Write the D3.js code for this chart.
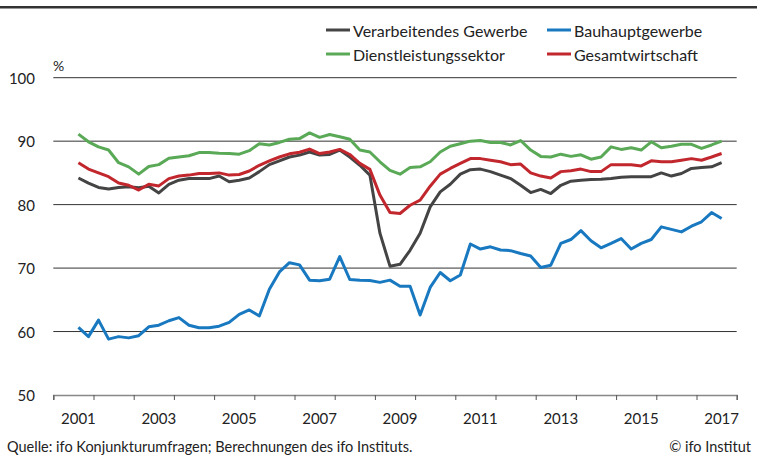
<!DOCTYPE html>
<html>
<head>
<meta charset="utf-8">
<script src="https://cdn.jsdelivr.net/npm/d3@7"></script>
<style>
  body { margin: 0; background: #fff; }
  svg { display: block; font-family: Lato, "Open Sans", sans-serif; }
</style>
</head>
<body>
<div id="chart"></div>
<script>
// ---------- DATA (quarterly, 2001 Q3 .. 2017 Q3) ----------
const startYear = 2001, startQuarter = 3;

const verarbeitend = [
  84.2, 83.4, 82.7, 82.45, 82.7, 82.8, 82.65, 82.9, 81.85, 83.2, 83.85, 84.1, 84.1, 84.1, 84.5, 83.6, 83.85, 84.2, 85.2, 86.3, 86.9, 87.5, 87.8,
  88.3, 87.8, 87.9, 88.6, 87.5, 86.2, 84.65, 75.5, 70.3, 70.6, 72.8, 75.5, 79.65, 82.0, 83.2, 84.8, 85.5, 85.6, 85.2,
  84.65, 84.1, 83.05, 81.9, 82.4, 81.75, 83.05, 83.7, 83.85, 83.95, 84.0, 84.1, 84.3, 84.4, 84.4, 84.4, 85.0, 84.5, 84.9, 85.7, 85.85, 85.95, 86.6
];
const bauhaupt = [
  60.65, 59.2, 61.8, 58.8, 59.2, 59.0, 59.35, 60.75, 61.0, 61.7, 62.2, 61.0, 60.6, 60.6, 60.85, 61.45, 62.7, 63.4, 62.45, 66.65, 69.4, 70.85, 70.5,
  68.1, 68.0, 68.25, 71.8, 68.2, 68.1, 68.05, 67.75, 68.1, 67.15, 67.15, 62.6, 66.95, 69.3, 68.0, 68.9, 73.8, 73.0, 73.35,
  72.85, 72.75, 72.3, 71.9, 70.1, 70.45, 73.9, 74.5, 75.9, 74.3, 73.2, 73.9, 74.65, 73.0, 73.9, 74.5, 76.5, 76.1, 75.7, 76.6, 77.3, 78.75, 77.8
];
const dienstleistung = [
  91.1, 89.9, 89.1, 88.6, 86.6, 85.95, 84.8, 86.0, 86.3, 87.3, 87.5, 87.7, 88.2, 88.2, 88.1, 88.05, 87.95, 88.5, 89.6, 89.4, 89.8, 90.3, 90.4,
  91.3, 90.6, 91.05, 90.7, 90.3, 88.6, 88.3, 86.75, 85.4, 84.8, 85.85, 85.95, 86.75, 88.3, 89.2, 89.6, 90.0, 90.1, 89.8,
  89.8, 89.4, 90.1, 88.6, 87.6, 87.5, 87.95, 87.6, 87.85, 87.15, 87.5, 89.1, 88.7, 88.95, 88.6, 89.9, 88.95, 89.2, 89.5, 89.5, 88.85, 89.4, 90.0
];
const gesamt = [
  86.6, 85.6, 85.0, 84.4, 83.4, 83.05, 82.3, 83.2, 82.95, 84.1, 84.5, 84.65, 84.9, 84.9, 85.0, 84.65, 84.75, 85.3, 86.2, 86.9, 87.5, 88.0, 88.25,
  88.75, 88.05, 88.3, 88.7, 87.9, 86.5, 85.55, 81.5, 78.75, 78.6, 79.9, 80.7, 82.9, 84.8, 85.7, 86.5, 87.25, 87.25, 87.0,
  86.75, 86.3, 86.4, 85.0, 84.5, 84.2, 85.2, 85.35, 85.6, 85.2, 85.2, 86.3, 86.3, 86.3, 86.1, 86.9, 86.75, 86.75, 87.0, 87.25, 87.0, 87.5, 88.05
];

const yTicks = [50, 60, 70, 80, 90, 100];
const yearTicks = d3.range(2001, 2019);
const yearLabels = [2001, 2003, 2005, 2007, 2009, 2011, 2013, 2015, 2017];

const series = [
  { name: "Verarbeitendes Gewerbe", values: verarbeitend, color: "#444444" },
  { name: "Bauhauptgewerbe", values: bauhaupt, color: "#1878c0" },
  { name: "Dienstleistungssektor", values: dienstleistung, color: "#5aa957" },
  { name: "Gesamtwirtschaft", values: gesamt, color: "#c1272d" }
];

// quarter index -> fractional year (quarter centre)
function qTime(i) {
  const q = startQuarter - 1 + i;
  return startYear + Math.floor(q / 4) + ((q % 4) + 0.5) / 4;
}

// ---------- DRAW ----------
const W = 757, H = 459;
const svg = d3.select("#chart").append("svg")
  .attr("width", W).attr("height", H);

const x = d3.scaleLinear().domain([2001, 2018]).range([53.3, 736.7]);
const y = d3.scaleLinear().domain([50, 100]).range([395, 77.7]);

// top rule
svg.append("rect")
  .attr("x", 0).attr("y", 6).attr("width", W).attr("height", 2.5)
  .attr("fill", "#333");

// gridlines
svg.append("g")
  .selectAll("line")
  .data(yTicks.filter(d => d > 50))
  .join("line")
  .attr("x1", x(2001)).attr("x2", x(2018))
  .attr("y1", d => y(d)).attr("y2", d => y(d))
  .attr("stroke", "#333").attr("stroke-width", 1);

// y labels
svg.append("g")
  .selectAll("text")
  .data(yTicks)
  .join("text")
  .attr("x", 35).attr("y", d => y(d))
  .attr("text-anchor", "end")
  .attr("dominant-baseline", "central")
  .style("font-size", "15px")
  .attr("fill", "#222")
  .text(d => d);

svg.append("text")
  .attr("x", 53).attr("y", 65)
  .attr("dominant-baseline", "central")
  .style("font-size", "14px")
  .attr("fill", "#222")
  .text("%");

// x axis: ticks at year boundaries
const xAxis = svg.append("g")
  .attr("transform", `translate(0,${y(50)})`)
  .call(d3.axisBottom(x).tickValues(yearTicks).tickSize(5).tickFormat(""));
xAxis.select(".domain").attr("stroke", "#888").attr("stroke-width", 1.5);
xAxis.selectAll(".tick line").attr("stroke", "#555");

// year labels (mid-year)
svg.append("g")
  .selectAll("text")
  .data(yearLabels)
  .join("text")
  .attr("x", d => x(d + 0.625)).attr("y", 418)
  .attr("text-anchor", "middle")
  .attr("dominant-baseline", "central")
  .style("font-size", "15px")
  .attr("fill", "#222")
  .text(d => d);

// lines
const line = d3.line()
  .x((d, i) => x(qTime(i)))
  .y(d => y(d));

svg.append("g")
  .selectAll("path")
  .data(series)
  .join("path")
  .attr("fill", "none")
  .attr("stroke", d => d.color)
  .attr("stroke-width", 3)
  .attr("stroke-linejoin", "round")
  .attr("d", d => line(d.values));

// legend
const legendPos = [
  { x: 326, y: 30 }, { x: 547, y: 30 },
  { x: 326, y: 54 }, { x: 547, y: 54 }
];
const legend = svg.append("g")
  .selectAll("g")
  .data(series)
  .join("g")
  .attr("transform", (d, i) => `translate(${legendPos[i].x},${legendPos[i].y})`);
legend.append("line")
  .attr("x1", 0).attr("x2", 24)
  .attr("stroke", d => d.color).attr("stroke-width", 3);
legend.append("text")
  .attr("x", 27)
  .attr("dominant-baseline", "central")
  .style("font-size", "16px")
  .attr("fill", "#222")
  .text(d => d.name);

// footer
svg.append("text")
  .attr("x", 7).attr("y", 446)
  .attr("dominant-baseline", "central")
  .style("font-size", "14.5px")
  .attr("fill", "#222")
  .text("Quelle: ifo Konjunkturumfragen; Berechnungen des ifo Instituts.");
svg.append("text")
  .attr("x", 751).attr("y", 446)
  .attr("text-anchor", "end")
  .attr("dominant-baseline", "central")
  .style("font-size", "14.5px")
  .attr("fill", "#222")
  .text("© ifo Institut");
</script>
</body>
</html>
